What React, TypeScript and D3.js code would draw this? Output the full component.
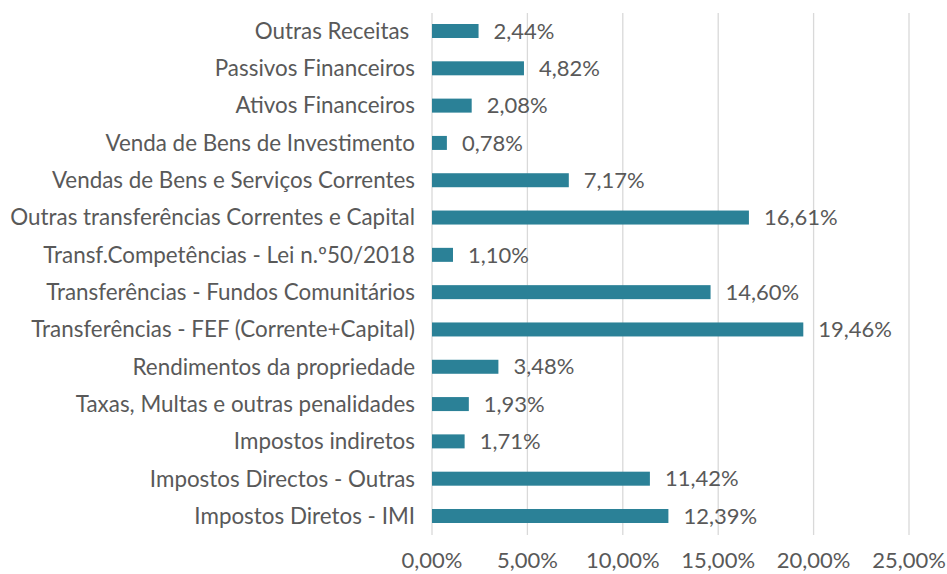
import React from "react";
import * as d3 from "d3";

const categories = [
  "Outras Receitas ",
  "Passivos Financeiros",
  "Ativos Financeiros",
  "Venda de Bens de Investimento",
  "Vendas de Bens e Serviços Correntes",
  "Outras transferências Correntes e Capital",
  "Transf.Competências - Lei n.º50/2018",
  "Transferências - Fundos Comunitários",
  "Transferências - FEF (Corrente+Capital)",
  "Rendimentos da propriedade",
  "Taxas, Multas e outras penalidades",
  "Impostos indiretos",
  "Impostos Directos - Outras",
  "Impostos Diretos - IMI",
];
const values = [2.44, 4.82, 2.08, 0.78, 7.17, 16.61, 1.1, 14.6, 19.46, 3.48, 1.93, 1.71, 11.42, 12.39];
const ticks = [0, 5, 10, 15, 20, 25];

const W = 947;
const H = 574;
const FONT = "Lato, 'Open Sans', sans-serif";
const TEXT = "#595959";

const fmt = (v: number) => v.toFixed(2).replace(".", ",") + "%";

export default function App() {
  const x = d3.scaleLinear().domain([0, 25]).range([432, 909]);
  const y = d3.scalePoint<string>().domain(categories).range([12.35, 534.65]).padding(0.5);
  const barH = 14;
  return (
    <svg width={W} height={H} style={{ position: "absolute", left: 0, top: 0, background: "#fff" }} fontFamily={FONT}>
      <rect width={W} height={H} fill="#fff" />
      {ticks.map((t) => (
        <line key={"g" + t} x1={x(t)} x2={x(t)} y1={13} y2={535} stroke="#d9d9d9" strokeWidth={1.3} />
      ))}
      {categories.map((c, i) => {
        const cy = y(c)!;
        return (
          <g key={c}>
            <rect x={x(0)} y={cy - barH / 2} width={x(values[i]) - x(0)} height={barH} fill="#2b8197" />
            <text x={415} y={cy} dy="0.35em" textAnchor="end" fontSize={22.4} fill={TEXT} style={{ whiteSpace: "pre" }}>{c}</text>
            <text x={x(values[i]) + 15} y={cy} dy="0.35em" fontSize={22} fill={TEXT}>{fmt(values[i])}</text>
          </g>
        );
      })}
      {ticks.map((t) => (
        <text key={"t" + t} x={x(t)} y={560} dy="0.35em" textAnchor="middle" fontSize={22} fill={TEXT}>{fmt(t)}</text>
      ))}
    </svg>
  );
}
